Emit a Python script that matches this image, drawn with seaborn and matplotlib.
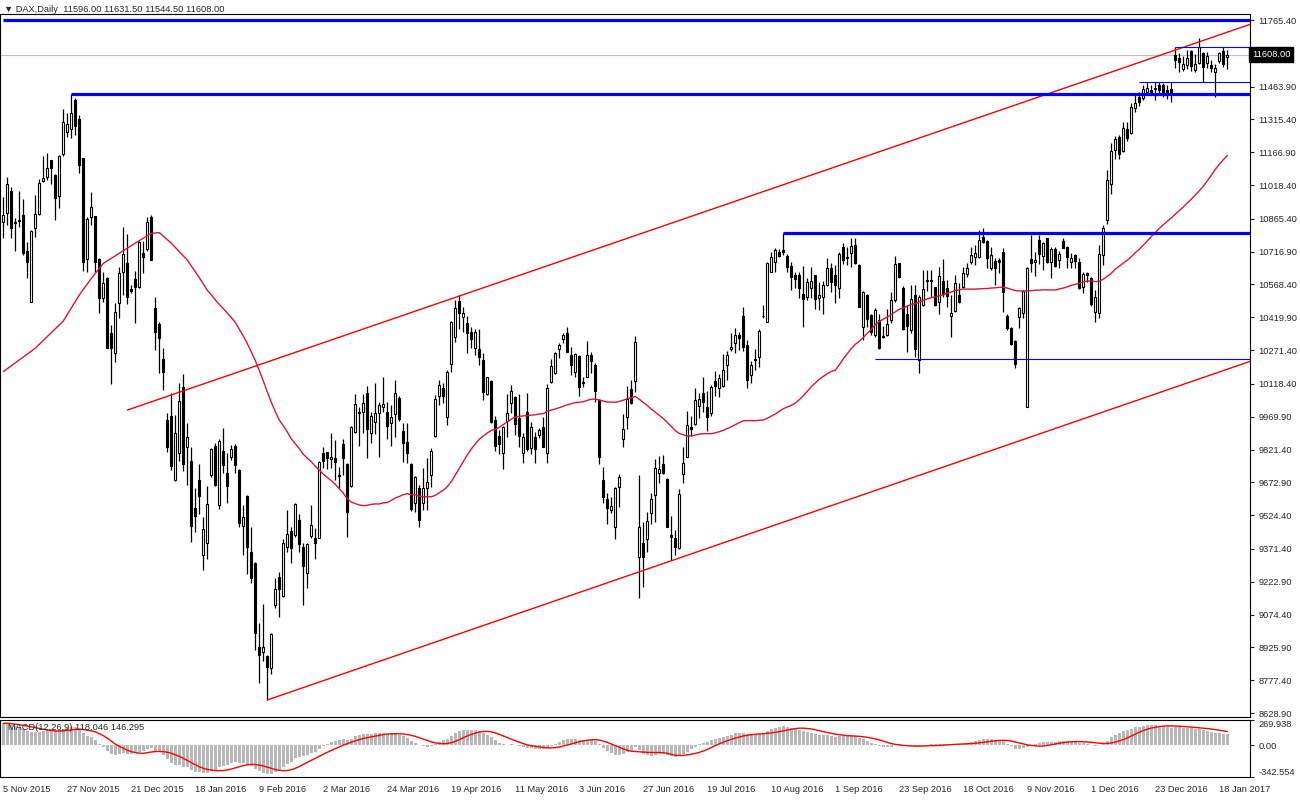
import numpy as np
import pandas as pd
import seaborn as sns
import matplotlib.pyplot as plt
import matplotlib.transforms as mtransforms

sns.set_style("white")
plt.rcParams['font.family'] = ['Liberation Sans', 'DejaVu Sans']

# DAX daily candles, 5 Nov 2015 .. 20 Jan 2017, one entry per trading day
opens = [
    10853, 10890, 10991, 10853, 10856, 10883, 10721, 10491, 10826, 10886,
    11038, 11056, 11130, 11064, 10970, 11159, 11257, 11271, 11403, 11317,
    11142, 10682, 10872, 10878, 10684, 10509, 10599, 10349, 10257, 10483,
    10623, 10667, 10550, 10593, 10556, 10712, 10728, 10875, 10460, 10390,
    10230, 9955, 9973, 9683, 9807, 10103, 9831, 9771, 9555, 9683,
    9344, 9400, 9706, 9837, 9570, 9816, 9714, 9786, 9837, 9729,
    9475, 9611, 9359, 9309, 8926, 8907, 8887, 8831, 9118, 9243,
    9158, 9382, 9451, 9435, 9502, 9379, 9264, 9430, 9419, 9419,
    9804, 9812, 9777, 9782, 9706, 9846, 9756, 9656, 9902, 9985,
    9993, 10076, 9898, 9948, 9985, 10012, 9993, 9940, 9982, 10053,
    9907, 9857, 9756, 9578, 9646, 9578, 9646, 9706, 9883, 10064,
    10098, 9967, 10209, 10332, 10495, 10423, 10393, 10355, 10279, 10275,
    10227, 10073, 10133, 9955, 9883, 9807, 9952, 10030, 10058, 9963,
    9807, 9993, 9827, 9880, 9887, 9922, 9807, 10129, 10169, 10275,
    10320, 10350, 10249, 10174, 10245, 10126, 10151, 10249, 10204, 10046,
    9683, 9596, 9548, 9469, 9650, 9868, 9967, 10094, 10133, 9336,
    9400, 9415, 9533, 9616, 9714, 9756, 9686, 9433, 9419, 9374,
    9711, 9789, 9925, 9937, 10018, 10079, 10012, 9988, 10133, 10098,
    10109, 10204, 10276, 10302, 10340, 10427, 10295, 10159, 10230, 10242,
    10424, 10400, 10626, 10669, 10717, 10725, 10699, 10654, 10611, 10611,
    10524, 10513, 10551, 10611, 10506, 10513, 10566, 10642, 10611, 10551,
    10740, 10693, 10712, 10747, 10657, 10377, 10521, 10430, 10340, 10408,
    10335, 10340, 10408, 10498, 10664, 10551, 10435, 10362, 10521, 10227,
    10476, 10583, 10589, 10556, 10491, 10586, 10551, 10426, 10450, 10521,
    10559, 10616, 10669, 10691, 10694, 10785, 10765, 10642, 10675, 10679,
    10717, 10427, 10373, 10313, 10423, 10438, 10015, 10684, 10669, 10770,
    10699, 10777, 10672, 10729, 10679, 10765, 10740, 10672, 10702, 10672,
    10559, 10619, 10599, 10442, 10438, 10702, 10860, 11022, 11177, 11237,
    11173, 11272, 11252, 11366, 11418, 11411, 11441, 11449, 11453, 11471,
    11471, 11449, 11453, 11607, 11595, 11544, 11562, 11625, 11539, 11569,
    11615, 11569, 11562, 11532, 11580, 11625, 11596,
]
highs = [
    10966, 11056, 11011, 10868, 10991, 10955, 10762, 10816, 10973, 11044,
    11151, 11162, 11133, 11067, 11154, 11363, 11343, 11431, 11414, 11335,
    11142, 10875, 10988, 10878, 10687, 10626, 10604, 10385, 10483, 10649,
    10830, 10797, 10566, 10629, 10767, 10767, 10875, 10883, 10510, 10400,
    10279, 9988, 10079, 9978, 10124, 10163, 9940, 9831, 9646, 9756,
    9515, 9656, 9827, 9849, 9868, 9917, 9807, 9842, 9846, 9732,
    9570, 9616, 9469, 9314, 9035, 9122, 8891, 8989, 9238, 9269,
    9415, 9548, 9469, 9581, 9530, 9397, 9397, 9570, 9465, 9771,
    9834, 9812, 9898, 9865, 9744, 9868, 9759, 9928, 10073, 10012,
    10073, 10109, 9993, 10124, 10038, 10148, 10038, 10023, 10136, 10064,
    9943, 9940, 9759, 9702, 9661, 9736, 9782, 9827, 10068, 10136,
    10121, 10181, 10405, 10498, 10521, 10468, 10426, 10374, 10365, 10365,
    10257, 10151, 10136, 9973, 9910, 9928, 10073, 10113, 10064, 10073,
    9898, 10076, 9947, 9902, 9917, 9970, 10118, 10230, 10264, 10302,
    10347, 10374, 10284, 10257, 10249, 10151, 10314, 10264, 10215, 10049,
    9744, 9623, 9608, 9650, 9711, 9982, 10109, 10136, 10335, 9706,
    9495, 9540, 9626, 9777, 9792, 9797, 9691, 9520, 9457, 9641,
    9834, 9997, 9973, 10098, 10076, 10148, 10088, 10113, 10178, 10163,
    10254, 10269, 10347, 10373, 10352, 10468, 10317, 10222, 10276, 10367,
    10476, 10669, 10717, 10735, 10729, 10800, 10705, 10669, 10623, 10626,
    10654, 10596, 10649, 10611, 10581, 10584, 10687, 10664, 10657, 10717,
    10755, 10740, 10777, 10777, 10661, 10540, 10525, 10435, 10460, 10435,
    10380, 10456, 10536, 10697, 10667, 10562, 10476, 10566, 10566, 10521,
    10634, 10634, 10634, 10559, 10646, 10682, 10589, 10521, 10611, 10577,
    10649, 10667, 10740, 10747, 10815, 10823, 10770, 10740, 10687, 10687,
    10735, 10433, 10377, 10317, 10468, 10543, 10649, 10792, 10717, 10792,
    10762, 10780, 10740, 10740, 10720, 10777, 10744, 10709, 10705, 10690,
    10623, 10626, 10604, 10543, 10747, 10838, 11087, 11207, 11242, 11245,
    11305, 11302, 11388, 11429, 11438, 11471, 11483, 11471, 11483, 11483,
    11479, 11471, 11483, 11645, 11615, 11604, 11630, 11630, 11610, 11685,
    11619, 11619, 11584, 11565, 11622, 11645, 11631.5,
]
lows = [
    10777, 10838, 10777, 10721, 10830, 10702, 10599, 10491, 10785, 10883,
    11034, 11041, 11022, 10860, 10913, 11151, 11237, 11230, 11245, 11071,
    10629, 10626, 10838, 10626, 10441, 10491, 10279, 10116, 10219, 10415,
    10521, 10480, 10528, 10393, 10551, 10619, 10721, 10679, 10272, 10166,
    10091, 9812, 9729, 9681, 9771, 9726, 9661, 9404, 9450, 9530,
    9276, 9324, 9699, 9656, 9551, 9714, 9578, 9774, 9714, 9472,
    9344, 9258, 9216, 8914, 8763, 8866, 8688, 8805, 9103, 9065,
    9155, 9359, 9309, 9427, 9359, 9118, 9193, 9419, 9324, 9419,
    9736, 9732, 9736, 9683, 9646, 9706, 9424, 9653, 9895, 9837,
    9895, 9782, 9849, 9892, 9786, 9993, 9868, 9837, 9880, 9952,
    9766, 9759, 9545, 9540, 9469, 9548, 9548, 9653, 9880, 10023,
    10030, 9932, 10174, 10310, 10365, 10355, 10260, 10279, 10249, 10204,
    10046, 10068, 9943, 9816, 9801, 9732, 9877, 9985, 9887, 9834,
    9759, 9816, 9801, 9762, 9872, 9831, 9762, 10121, 10163, 10234,
    10302, 10263, 10159, 10151, 10064, 10106, 10148, 10169, 10038, 9756,
    9581, 9484, 9533, 9415, 9560, 9834, 9913, 10027, 10083, 9148,
    9198, 9359, 9484, 9495, 9671, 9711, 9469, 9321, 9344, 9370,
    9671, 9786, 9883, 9932, 9963, 9993, 9907, 9973, 10064, 10058,
    10106, 10136, 10267, 10257, 10272, 10267, 10100, 10123, 10181, 10196,
    10418, 10397, 10623, 10623, 10694, 10702, 10626, 10543, 10554, 10506,
    10377, 10498, 10506, 10457, 10453, 10433, 10563, 10536, 10483, 10509,
    10660, 10657, 10649, 10661, 10465, 10317, 10377, 10340, 10329, 10275,
    10325, 10335, 10393, 10491, 10596, 10362, 10264, 10350, 10242, 10169,
    10471, 10540, 10513, 10471, 10435, 10510, 10465, 10332, 10445, 10486,
    10551, 10604, 10660, 10657, 10687, 10755, 10642, 10634, 10566, 10619,
    10445, 10362, 10295, 10192, 10370, 10415, 10015, 10626, 10608, 10660,
    10634, 10664, 10599, 10649, 10642, 10732, 10642, 10645, 10645, 10548,
    10528, 10581, 10473, 10397, 10415, 10657, 10841, 10976, 11136, 11136,
    11166, 11218, 11248, 11348, 11378, 11403, 11434, 11429, 11403, 11434,
    11418, 11408, 11396, 11547, 11532, 11535, 11544, 11535, 11532, 11565,
    11486, 11550, 11532, 11418, 11569, 11554, 11544.5,
]
closes = [
    10883, 11022, 10826, 10845, 10862, 10709, 10672, 10812, 10886, 11026,
    11049, 11094, 11094, 10961, 11148, 11302, 11293, 11343, 11287, 11109,
    10672, 10865, 10918, 10672, 10509, 10573, 10282, 10279, 10445, 10619,
    10705, 10510, 10540, 10559, 10761, 10691, 10853, 10679, 10355, 10325,
    10174, 9831, 9747, 9898, 10043, 9756, 9880, 9475, 9521, 9611,
    9460, 9575, 9822, 9661, 9862, 9751, 9656, 9822, 9751, 9490,
    9515, 9379, 9238, 8989, 8891, 8926, 8836, 8986, 9189, 9189,
    9397, 9439, 9374, 9575, 9394, 9294, 9394, 9480, 9400, 9766,
    9771, 9782, 9786, 9766, 9703, 9782, 9540, 9922, 10027, 9993,
    10034, 9913, 9973, 9985, 10023, 10027, 9928, 9970, 10076, 9958,
    9852, 9804, 9551, 9696, 9502, 9646, 9676, 9816, 10049, 10113,
    10064, 10174, 10400, 10460, 10438, 10438, 10350, 10320, 10355, 10242,
    10083, 10148, 9947, 9837, 9846, 9922, 9985, 10088, 9937, 9883,
    9877, 9822, 9922, 9822, 9910, 9834, 10098, 10199, 10257, 10294,
    10340, 10264, 10204, 10254, 10106, 10123, 10249, 10224, 10088, 9786,
    9605, 9555, 9566, 9646, 9696, 9913, 10049, 10034, 10310, 9472,
    9333, 9499, 9596, 9736, 9732, 9717, 9472, 9427, 9382, 9620,
    9762, 9932, 9913, 10046, 10049, 10038, 9970, 10106, 10109, 10144,
    10181, 10249, 10287, 10340, 10328, 10287, 10136, 10204, 10227, 10358,
    10427, 10664, 10694, 10725, 10699, 10717, 10649, 10604, 10593, 10554,
    10503, 10578, 10584, 10503, 10521, 10566, 10642, 10581, 10566, 10705,
    10679, 10687, 10743, 10664, 10465, 10536, 10411, 10355, 10453, 10279,
    10329, 10390, 10498, 10661, 10601, 10365, 10380, 10504, 10275, 10510,
    10546, 10587, 10583, 10476, 10607, 10525, 10516, 10438, 10577, 10491,
    10619, 10642, 10702, 10709, 10770, 10759, 10687, 10702, 10642, 10669,
    10536, 10370, 10298, 10207, 10460, 10539, 10645, 10664, 10679, 10705,
    10755, 10672, 10729, 10654, 10705, 10735, 10694, 10687, 10675, 10551,
    10614, 10611, 10479, 10513, 10705, 10823, 11041, 11173, 11227, 11157,
    11275, 11230, 11373, 11388, 11393, 11453, 11456, 11441, 11459, 11449,
    11434, 11438, 11441, 11584, 11577, 11565, 11595, 11559, 11565, 11645,
    11554, 11604, 11547, 11550, 11615, 11565, 11608,
]

# date labels, one every 16 trading days
date_labels = ["5 Nov 2015", "27 Nov 2015", "21 Dec 2015", "18 Jan 2016", "9 Feb 2016",
               "2 Mar 2016", "24 Mar 2016", "19 Apr 2016", "11 May 2016", "3 Jun 2016",
               "27 Jun 2016", "19 Jul 2016", "10 Aug 2016", "1 Sep 2016", "23 Sep 2016",
               "18 Oct 2016", "9 Nov 2016", "1 Dec 2016", "23 Dec 2016", "18 Jan 2017"]
price_ticks = [11765.40, 11463.90, 11315.40, 11166.90, 11018.40, 10865.40, 10716.90,
               10568.40, 10419.90, 10271.40, 10118.40, 9969.90, 9821.40, 9672.90,
               9524.40, 9371.40, 9222.90, 9074.40, 8925.90, 8777.40, 8628.90]
macd_ticks = [269.938, 0.0, -342.554]
macd_tick_labels = ["269.938", "0.00", "-342.554"]

# 50-day SMA before enough history exists
ma_head_bars = [0, 8, 15, 19, 22, 25, 30, 34, 37, 39, 42, 46]
ma_head_vals = [10174, 10280, 10403, 10521, 10596, 10664, 10721, 10767, 10800, 10803, 10755, 10679]
ema_seed = (10740.0, 10500.0)   # EMA12 / EMA26 levels just before the first bar

# drawn objects: horizontal levels (start bar, price) and channel anchors
thick_levels = [(0, 11767), (17, 11430), (195, 10800)]
thin_levels = [(218, 10230), (284, 11483), (293, 11645)]
channel_lines = [((31, 10000), (113, 10510)), ((66, 8688), (167, 9318))]
last_price = 11608.00
title_text = "\u25bc DAX,Daily  11596.00 11631.50 11544.50 11608.00"
macd_text = "MACD(12,26,9) 118.046 146.295"

o = np.array(opens, float)
h = np.array(highs, float)
l = np.array(lows, float)
c = np.array(closes, float)
n = len(c)
x = np.arange(n)
xmin, xmax = -0.825, 311.675

# indicators
sma50 = pd.Series(c).rolling(50).mean()
ma_x = ma_head_bars + list(range(49, n))
ma_y = ma_head_vals + list(sma50.iloc[49:])

fast, slow = ema_seed
macd = []
for v in c:
    fast += (v - fast) * 2 / 13
    slow += (v - slow) * 2 / 27
    macd.append(fast - slow)
macd = np.array(macd)
signal = pd.Series(macd).rolling(9, min_periods=1).mean()

fig = plt.figure(figsize=(13, 8), dpi=100)
ax = fig.add_axes([0, 1 - 717 / 800, 1250 / 1300, 703 / 800])
ax2 = fig.add_axes([0, 1 - 777 / 800, 1250 / 1300, 57 / 800])

# price panel
ax.axhline(last_price, color="#c0c0c0", lw=0.8, zorder=0)
ax.vlines(x, l, h, color="black", lw=0.9, zorder=2)
up = c >= o
ax.bar(x, np.maximum(np.abs(c - o), 2.0), bottom=np.minimum(o, c), width=0.55,
       color=np.where(up, "white", "black"), edgecolor="black", linewidth=0.8, zorder=3)
sns.lineplot(x=ma_x, y=ma_y, ax=ax, color="#dc143c", linewidth=1, zorder=4)

for (b1, p1), (b2, p2) in channel_lines:
    k = (p2 - p1) / (b2 - b1)
    ax.plot([b1, xmax], [p1, p1 + k * (xmax - b1)], color="red", lw=1, zorder=5)
for b, p in thick_levels:
    ax.hlines(p, max(b, xmin), xmax, color="#0000ff", lw=2.3, zorder=5)
for b, p in thin_levels:
    ax.hlines(p, b, xmax, color="#0000ff", lw=0.8, zorder=5)

ax.set_xlim(xmin, xmax)
ax.set_ylim(8610.8, 11792.6)
ax.set_xticks([])
ax.yaxis.tick_right()
ax.set_yticks(price_ticks, [f"{t:.2f}" for t in price_ticks])
ax.tick_params(axis="y", direction="out", length=3, width=0.8, labelsize=6.7, pad=3)
ax.set_xlabel("")
ax.set_ylabel("")

tr = mtransforms.blended_transform_factory(ax.transAxes, ax.transData)
ax.text(1.0 + 2 / 1250, last_price, f"{last_price:.2f}", transform=tr, ha="left", va="center",
        fontsize=6.7, color="white",
        bbox=dict(boxstyle="square,pad=0.3", fc="black", ec="black"), zorder=10, clip_on=False)

# MACD panel: the scale runs from the lowest to the highest label, edge to edge
ax2.bar(x, macd, width=0.62, color="#b8b8b8", linewidth=0, antialiased=False, zorder=1)
sns.lineplot(x=x, y=signal, ax=ax2, color="red", linewidth=1, zorder=3)
ax2.set_xlim(xmin, xmax)
ax2.set_ylim(min(macd_ticks), max(macd_ticks))
ax2.yaxis.tick_right()
ax2.set_yticks(macd_ticks, macd_tick_labels)
ax2.set_xticks(np.arange(len(date_labels)) * 16, date_labels, ha="left")
ax2.tick_params(axis="both", direction="out", length=3, width=0.8, labelsize=6.7, pad=3)
ylabels = ax2.get_yticklabels()
ylabels[0].set_verticalalignment("top")
ylabels[2].set_verticalalignment("bottom")
ax2.set_xlabel("")
ax2.set_ylabel("")
ax2.text(0.006, 0.86, macd_text, transform=ax2.transAxes, fontsize=6.7, va="center", zorder=5)

for a in (ax, ax2):
    for s in a.spines.values():
        s.set_color("black")
        s.set_linewidth(0.8)

fig.text(4 / 1300, 1 - 10 / 800, title_text, fontsize=6.7, va="center")

fig.savefig("out.png", dpi=100)
